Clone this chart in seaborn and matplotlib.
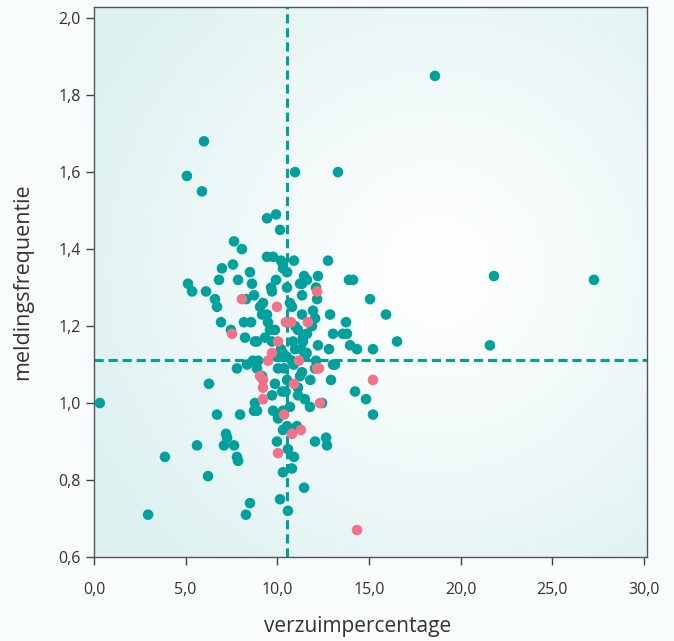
import numpy as np
import pandas as pd
import matplotlib
matplotlib.use("Agg")
import matplotlib.pyplot as plt
import seaborn as sns
from matplotlib.colors import to_rgb
from matplotlib.ticker import FuncFormatter

# teal points: verzuimpercentage / meldingsfrequentie
teal_x = [18.60, 21.82, 21.60, 27.28, 0.32, 6.00, 5.07, 5.89, 10.97, 13.31,
          3.87, 2.95, 5.62, 6.22, 6.27, 16.53, 15.93, 15.06, 15.22, 15.22,
          14.84, 14.24, 13.91, 14.13, 12.77, 9.44, 9.93, 10.15, 7.64, 8.07,
          6.98, 7.58, 5.13, 5.35, 6.11, 6.60, 6.71, 6.82, 7.86, 8.51,
          8.62, 8.73, 6.93, 7.47, 8.24, 8.18, 8.57, 9.22, 9.17, 9.49,
          9.44, 9.77, 10.20, 10.91, 10.31, 10.53, 9.93, 9.66, 9.71, 10.53,
          11.46, 11.62, 11.35, 12.22, 12.11, 12.17, 10.80, 11.35, 11.95, 12.06,
          12.88, 13.75, 13.58, 13.80, 13.04, 13.97, 14.35, 12.82, 11.62, 12.22,
          11.40, 10.86, 9.33, 8.78, 10.53, 13.15, 7.80, 8.35, 8.67, 8.89,
          13.04, 12.93, 12.11, 12.44, 11.78, 9.77, 10.31, 8.89, 8.73, 6.71,
          7.97, 10.31, 11.07, 7.20, 7.09, 7.64, 7.26, 7.80, 7.86, 9.98,
          10.58, 10.91, 10.31, 10.80, 12.06, 12.66, 12.71, 11.46, 10.15, 8.51,
          8.29, 10.58, 8.89, 10.97, 8.95, 10.04, 10.53, 9.87, 9.71, 10.26,
          11.13, 8.78, 10.69, 10.31, 11.24, 10.97, 10.31, 9.87, 9.71, 9.06,
          9.44, 10.69, 8.29, 11.24, 11.50, 11.80, 12.06, 9.98, 10.80, 11.50,
          10.04, 10.53, 9.17, 11.13, 11.35, 11.35, 11.13, 10.37, 11.30, 11.40,
          10.20, 11.60, 9.60, 10.90, 11.90, 10.45]
teal_y = [1.85, 1.33, 1.15, 1.32, 1.00, 1.68, 1.59, 1.55, 1.60, 1.60,
          0.86, 0.71, 0.89, 0.81, 1.05, 1.16, 1.23, 1.27, 1.14, 0.97,
          1.01, 1.03, 1.32, 1.32, 1.37, 1.48, 1.49, 1.45, 1.42, 1.40,
          1.35, 1.36, 1.31, 1.29, 1.29, 1.27, 1.25, 1.32, 1.32, 1.34,
          1.31, 1.28, 1.21, 1.19, 1.17, 1.21, 1.21, 1.26, 1.23, 1.21,
          1.38, 1.38, 1.37, 1.37, 1.35, 1.34, 1.32, 1.30, 1.29, 1.30,
          1.33, 1.32, 1.31, 1.33, 1.30, 1.27, 1.25, 1.23, 1.24, 1.22,
          1.23, 1.21, 1.18, 1.18, 1.18, 1.15, 1.14, 1.14, 1.18, 1.15,
          1.16, 1.16, 1.17, 1.16, 1.12, 1.10, 1.09, 1.10, 1.11, 1.09,
          1.10, 1.06, 1.11, 1.00, 0.99, 0.98, 0.98, 0.98, 0.98, 0.97,
          0.97, 0.93, 0.94, 0.92, 0.89, 0.89, 0.91, 0.86, 0.85, 0.90,
          0.88, 0.86, 0.82, 0.83, 0.90, 0.91, 0.89, 0.78, 0.75, 0.74,
          0.71, 0.72, 1.16, 1.14, 1.11, 1.09, 1.06, 1.05, 1.02, 1.03,
          1.02, 1.00, 0.99, 1.36, 1.31, 1.20, 1.13, 1.19, 1.16, 1.25,
          1.23, 1.26, 1.27, 1.07, 1.12, 1.06, 1.09, 1.12, 1.11, 1.01,
          0.96, 0.94, 1.07, 1.19, 1.28, 1.08, 1.04, 1.09, 1.14, 1.17,
          1.14, 1.13, 1.19, 1.10, 1.20, 1.03]

# pink points
pink_x = [14.35, 15.22, 12.17, 8.07, 7.53, 9.98, 10.47, 10.75, 11.67, 10.04,
          9.71, 9.49, 11.18, 12.17, 12.27, 9.06, 9.22, 9.22, 9.22, 10.91,
          12.33, 10.37, 10.80, 11.29, 10.04]
pink_y = [0.67, 1.06, 1.29, 1.27, 1.18, 1.25, 1.21, 1.21, 1.21, 1.16,
          1.13, 1.11, 1.11, 1.09, 1.09, 1.07, 1.04, 1.06, 1.01, 1.05,
          1.00, 0.97, 0.92, 0.93, 0.87]

mean_x = 10.53
mean_y = 1.112

teal = "#00a19c"
pink = "#f2728a"

df = pd.DataFrame({
    "verzuimpercentage": teal_x + pink_x,
    "meldingsfrequentie": teal_y + pink_y,
    "groep": ["a"] * len(teal_x) + ["b"] * len(pink_x),
})

sns.set_style("white")
plt.rcParams["font.family"] = ["Open Sans", "DejaVu Sans"]

fig = plt.figure(figsize=(6.74, 6.41), dpi=100, facecolor="#f8fcfc")
ax = fig.add_axes([94 / 674, 84 / 641, 553 / 674, 550 / 641])

# radial background gradient inside the axes
n = 300
gx, gy = np.meshgrid(np.linspace(0, 1, n), np.linspace(0, 1, n))
d = np.sqrt((gx - 0.62) ** 2 + (gy - 0.52) ** 2)
t = np.clip(d / 0.7, 0, 1) ** 1.2
c0 = np.array(to_rgb("#ffffff"))
c1 = np.array(to_rgb("#def1f1"))
img = c0[None, None, :] * (1 - t[..., None]) + c1[None, None, :] * t[..., None]
ax.imshow(img, extent=[0, 1, 0, 1], transform=ax.transAxes, origin="lower",
          aspect="auto", zorder=0)

ax.axvline(mean_x, color=teal, lw=2.2, ls=(0, (3, 1.6)), zorder=1)
ax.axhline(mean_y, color=teal, lw=2.2, ls=(0, (3, 1.6)), zorder=1)

sns.scatterplot(data=df, x="verzuimpercentage", y="meldingsfrequentie",
                hue="groep", palette={"a": teal, "b": pink}, s=58,
                linewidth=0, alpha=1, legend=False, ax=ax, zorder=3)

ax.set_xlim(0, 30.17)
ax.set_ylim(0.6, 2.029)
ax.set_xticks(np.arange(0, 31, 5))
ax.set_yticks(np.arange(0.6, 2.01, 0.2))
fmt = FuncFormatter(lambda v, p: f"{v:.1f}".replace(".", ","))
ax.xaxis.set_major_formatter(fmt)
ax.yaxis.set_major_formatter(fmt)
ax.tick_params(axis="both", direction="out", length=6, width=1,
               color="#444444", labelcolor="#333333", labelsize=11.5,
               bottom=True, left=True)
ax.tick_params(axis="x", pad=12)
for sp in ax.spines.values():
    sp.set_color("#555555")
    sp.set_linewidth(1)
    sp.set_visible(True)

ax.set_xlabel("verzuimpercentage", fontsize=15, color="#333333")
ax.set_ylabel("meldingsfrequentie", fontsize=15.5, color="#333333")
ax.xaxis.set_label_coords(0.476, -0.108)
ax.yaxis.set_label_coords(-0.11, 0.5)

fig.savefig("out.png", dpi=100, facecolor=fig.get_facecolor())
